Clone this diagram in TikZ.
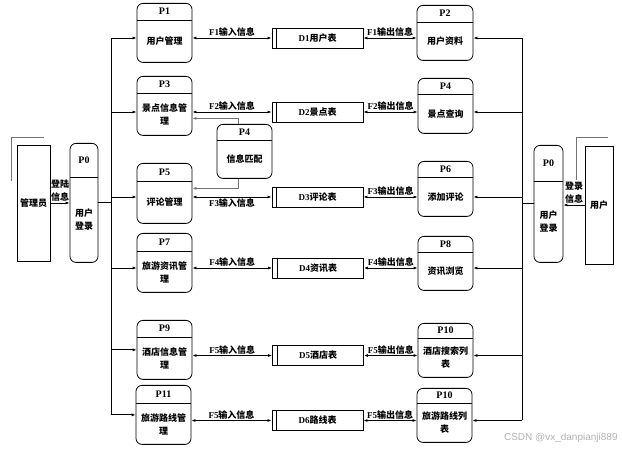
\documentclass[tikz,border=0pt]{standalone}
\usepackage{fontspec}
\setmainfont{Liberation Serif}
\newfontfamily\cjk{Noto Sans CJK SC}
\newfontfamily\wmfont{Liberation Sans}
\usetikzlibrary{arrows.meta, calc}
\newcommand{\zh}[1]{{\cjk #1}}
% process box: name, x, top y, width, height, divider, title, body
\newcommand{\proc}[8]{%
  \node[procbox, minimum width=#4pt, minimum height=#5pt, anchor=north] (#1) at (#2,#3) {};
  \draw ([yshift=-#6pt]#1.north west) -- ([yshift=-#6pt]#1.north east);
  \node[ptitle] (#1t) at ($(#1.north)!0.5!([yshift=-#6pt]#1.north)$) {#7};
  \node[pbody] (#1b) at ($(#1.south)!0.5!([yshift=-#6pt]#1.north)$) {#8};
}

\begin{document}
\begin{tikzpicture}[x=1pt, y=-1pt, line width=0.8pt,
  font=\fontsize{9}{11}\selectfont\bfseries,
  procbox/.style={draw, rounded corners=6pt, inner sep=0pt},
  ptitle/.style={inner sep=0pt, font=\fontsize{10}{12}\selectfont\bfseries},
  pbody/.style={inner sep=0pt, align=center, font=\fontsize{9}{13}\selectfont\bfseries},
  store/.style={draw, minimum width=91pt, minimum height=20pt, inner sep=0pt},
  lbl/.style={inner sep=1pt, align=center, font=\fontsize{9}{13}\selectfont\bfseries},
  arr/.style={-{Latex[length=4pt,width=3pt]}},
  biarr/.style={{Latex[length=4pt,width=3pt]}-{Latex[length=4pt,width=3pt]}},
  garr/.style={draw=black!55, line width=1pt, -{Latex[length=4pt,width=3pt]}},
  bracket/.style={draw=black!55, line width=1pt}]
\useasboundingbox (0,0) rectangle (622,449);

% outside entities
\node[draw, minimum width=33pt, minimum height=116pt, inner sep=0pt] (admin) at (33.5,203) {\zh{管理员}};
\node[draw, minimum width=28pt, minimum height=118pt, inner sep=0pt] (user) at (599,205) {\zh{用户}};
\draw[bracket] ($(admin.north west)+(-5,36)$) -- ($(admin.north west)+(-5,-7)$) -- ($(admin.north east)+(-6,-7)$);
\draw[bracket] ($(user.north west)+(-8,34)$) -- ($(user.north west)+(-8,-8)$) -- ($(user.north east)+(-5,-8)$);

% login processes
\proc{P0a}{84}{143}{28}{119}{34}{P0}{\zh{用户}\\\zh{登录}}
\proc{P0b}{548.5}{145}{29}{117}{36}{P0}{\zh{用户}\\\zh{登录}}

% management processes
\proc{P1}{164.5}{3}{55}{59}{17}{P1}{\zh{用户管理}}
\proc{P3}{164.5}{76}{55}{59}{17}{P3}{\zh{景点信息管}\\\zh{理}}
\proc{P5}{164.5}{163}{55}{60}{18}{P5}{\zh{评论管理}}
\proc{P7}{164.5}{233}{55}{59}{18}{P7}{\zh{旅游资讯管}\\\zh{理}}
\proc{P9}{164.5}{320}{55}{59}{17}{P9}{\zh{酒店信息管}\\\zh{理}}
\proc{P11}{163.5}{385}{55}{59}{18}{P11}{\zh{旅游路线管}\\\zh{理}}
\proc{P4m}{244.5}{124}{55}{54}{16}{P4}{\zh{信息匹配}}

% user processes
\proc{P2}{445}{5}{56}{55}{17}{P2}{\zh{用户资料}}
\proc{P4q}{445.5}{78}{55}{55}{16}{P4}{\zh{景点查询}}
\proc{P6}{445.5}{161}{55}{55}{16}{P6}{\zh{添加评论}}
\proc{P8}{445.5}{236}{55}{54}{16}{P8}{\zh{资讯浏览}}
\proc{P10a}{445.5}{323}{55}{54}{15}{P10}{\zh{酒店搜索列}\\\zh{表}}
\proc{P10b}{444.5}{388}{55}{54}{15}{P10}{\zh{旅游路线列}\\\zh{表}}

% data stores
\node[store] (D1) at (317.5,38) {D1\zh{用户表}};
\node[store] (D2) at (317.5,112) {D2\zh{景点表}};
\node[store] (D3) at (317.5,197) {D3\zh{评论表}};
\node[store] (D4) at (318,268) {D4\zh{资讯表}};
\node[store] (D5) at (318,355.5) {D5\zh{酒店表}};
\node[store] (D6) at (317.5,420.5) {D6\zh{路线表}};
\foreach \d in {D1,D2,D3,D4,D5,D6}
  \draw ([xshift=5pt]\d.north west) -- ([xshift=5pt]\d.south west);

% login flows
\draw[arr] (admin.east) -- node[lbl, above] (lg1) {\zh{登陆}\\\zh{信息}} (admin.east -| P0a.west);
\draw[arr] (user.west) -- node[lbl, above] (lg2) {\zh{登录}\\\zh{信息}} (user.west -| P0b.east);

% left bus
\coordinate (busL) at (111,38);
\coordinate (busR) at (522,38);
\draw (busL) -- (busL |- P11.west);
\draw (P0a.east) -- (P0a.east -| busL);
\draw[arr] (D1.west -| busL) -- (D1.west -| P1.west);
\draw[arr] (D2.west -| busL) -- (D2.west -| P3.west);
\draw[arr] (D3.west -| busL) -- (D3.west -| P5.west);
\draw[arr] (D4.west -| busL) -- (D4.west -| P7.west);
\draw[arr] (P9.west -| busL) -- (P9.west);
\draw[arr] (P11.west -| busL) -- (P11.west);

% right bus
\draw (busR) -- (busR |- D6.east);
\draw (P0b.west) -- (P0b.west -| busR);
\draw[arr] (D1.east -| busR) -- (D1.east -| P2.east);
\draw[arr] (D2.east -| busR) -- (D2.east -| P4q.east);
\draw[arr] (D3.east -| busR) -- (D3.east -| P6.east);
\draw[arr] (D4.east -| busR) -- (D4.east -| P8.east);
\draw[arr] (D5.east -| busR) -- (D5.east -| P10a.east);
\draw[arr] (D6.east -| busR) -- (D6.east -| P10b.east);

% input / output flows
\draw[biarr] (D1.west -| P1.east) -- node[lbl, above] (f1i) {F1\zh{输入信息}} (D1.west);
\draw[biarr] (D2.west -| P3.east) -- node[lbl, above] (f2i) {F2\zh{输入信息}} (D2.west);
\draw[biarr] (D3.west -| P5.east) -- node[lbl, below] (f3i) {F3\zh{输入信息}} (D3.west);
\draw[biarr] (D4.west -| P7.east) -- node[lbl, above] (f4i) {F4\zh{输入信息}} (D4.west);
\draw[biarr] (D5.west -| P9.east) -- node[lbl, above] (f5i) {F5\zh{输入信息}} (D5.west);
\draw[biarr] (D6.west -| P11.east) -- node[lbl, above] (f6i) {F5\zh{输入信息}} (D6.west);
\draw[biarr] (D1.east) -- node[lbl, above] (f1o) {F1\zh{输出信息}} (D1.east -| P2.west);
\draw[biarr] (D2.east) -- node[lbl, above] (f2o) {F2\zh{输出信息}} (D2.east -| P4q.west);
\draw[biarr] (D3.east) -- node[lbl, above] (f3o) {F3\zh{输出信息}} (D3.east -| P6.west);
\draw[biarr] (D4.east) -- node[lbl, above] (f4o) {F4\zh{输出信息}} (D4.east -| P8.west);
\draw[biarr] (D5.east) -- node[lbl, above] (f5o) {F5\zh{输出信息}} (D5.east -| P10a.west);
\draw[biarr] (D6.east) -- node[lbl, above] (f6o) {F5\zh{输出信息}} (D6.east -| P10b.west);

% matching
\draw[garr] ([xshift=-6.5pt]P4m.north) |- ($(P3.east)+(0,12.5)$);
\draw[garr] ([xshift=-6.5pt]P4m.south) |- ($(P5.east)+(0,-5)$);

\node[anchor=east, inner sep=0pt, text=black!30, font=\wmfont\fontsize{10}{12}\selectfont] (wm) at (618,438) {CSDN @vx\_danpianji889};
\end{tikzpicture}
\end{document}
